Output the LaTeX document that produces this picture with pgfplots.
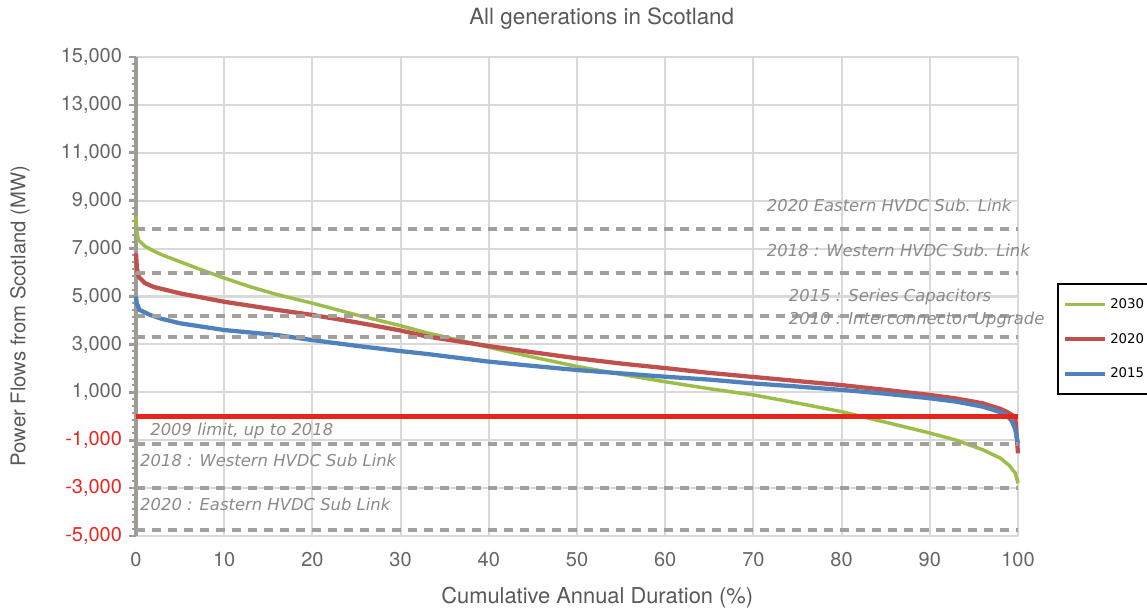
\documentclass[border=0pt]{standalone}
\usepackage{pgfplots}
\pgfplotsset{compat=1.18}
\usepackage{fontspec}
\setmainfont{TeX Gyre Heros}
\newfontfamily\dejavu{DejaVu Sans}
\definecolor{textgray}{HTML}{595959}
\definecolor{tickgray}{HTML}{666666}
\definecolor{negred}{HTML}{E8281E}
\definecolor{axisgray}{HTML}{9F9C97}
\definecolor{gridgray}{HTML}{D9D9D9}
\definecolor{dashgray}{HTML}{A3A09B}
\definecolor{annotgray}{HTML}{8A8A8A}
\definecolor{sgreen}{HTML}{9DBD4A}
\definecolor{sred}{HTML}{C0504D}
\definecolor{sblue}{HTML}{4F81BD}
\definecolor{limred}{HTML}{E8251A}
\begin{document}
\begin{tikzpicture}
\begin{axis}[
  scale only axis,
  width=661.5pt, height=359.25pt,
  xmin=0, xmax=100, ymin=-5000, ymax=15000,
  clip=false,
  scaled ticks=false,
  axis x line=bottom, axis y line=left,
  x axis line style={draw=gridgray, line width=1.5pt, -},
  y axis line style={draw=axisgray, line width=3pt, -},
  xtick={0,10,...,100},
  ytick={-5000,-3000,-1000,1000,3000,5000,7000,9000,11000,13000,15000},
  yticklabels={{\textcolor{negred}{-5,000}},{\textcolor{negred}{-3,000}},{\textcolor{negred}{-1,000}},{1,000},{3,000},{5,000},{7,000},{9,000},{11,000},{13,000},{15,000}},
  /pgf/number format/assume math mode=true,
  minor y tick num=6,
  tick align=outside,
  major tick length=5pt,
  minor tick length=3pt,
  y tick style={draw=axisgray, line width=2pt},
  minor y tick style={draw=axisgray, line width=1.5pt},
  x tick style={draw=none},
  grid=major,
  major grid style={draw=gridgray, line width=1.6pt},
  tick label style={font=\fontsize{15}{18}\selectfont, text=tickgray},
  xticklabel style={yshift=-4pt},
  yticklabel style={xshift=-2pt},
  title={All generations in Scotland},
  title style={font=\fontsize{16.8}{19}\selectfont, text=textgray, at={(axis description cs:0.528,1)}, anchor=base, yshift=18pt},
  xlabel={Cumulative Annual Duration (\%)},
  ylabel={Power Flows from Scotland (MW)},
  xlabel style={font=\fontsize{16.4}{19}\selectfont, text=textgray, at={(axis description cs:0.523,-0.1294)}, anchor=center},
  ylabel style={font=\fontsize{15.2}{18}\selectfont, text=textgray, at={(axis description cs:-0.1315,0.459)}, anchor=center},
  legend style={at={(axis description cs:1.0442,0.528)}, anchor=north west, draw=black, line width=1.5pt,
    font=\dejavu\fontsize{10}{11}\selectfont, row sep=13pt, inner xsep=4pt, inner ysep=9pt, fill=white},
  legend cell align=left,
  legend image code/.code={\draw[#1] (0pt,0pt) -- (30pt,0pt);},
]
\coordinate (o) at (axis cs:0,-5000);
\addplot[sgreen, line width=2.6pt] coordinates {
(0,8350) (0.1,7700) (0.3,7350) (1,7100) (2,6900) (3,6730) (5,6450) (7,6170) (10,5770) (13,5400) (16,5080) (20,4720) (25,4230) (30,3780) (33,3480) (37,3150) (40,2880) (45,2470) (50,2080) (55,1750) (60,1440) (65,1150) (70,890) (75,550) (80,190) (85,-250) (90,-700) (93,-1000) (96,-1400) (98,-1750) (99,-2050) (99.7,-2380) (100,-2800)};
\addlegendentry{2030}
\addplot[sred, line width=3.2pt] coordinates {
(0,6800) (0.1,6200) (0.3,5830) (1,5560) (2,5400) (5,5130) (10,4780) (16,4440) (20,4230) (25,3920) (30,3580) (33,3330) (37,3100) (40,2930) (45,2670) (50,2420) (55,2200) (60,2010) (65,1810) (70,1640) (75,1470) (80,1300) (85,1100) (90,890) (93,740) (96,540) (98,310) (98.7,190) (99.4,40) (99.7,-70) (100,-1550)};
\addlegendentry{2020}
\addplot[sblue, line width=3.2pt] coordinates {
(0,5000) (0.1,4700) (0.4,4440) (1.6,4230) (3,4060) (5,3880) (10,3600) (16,3390) (20,3180) (25,2940) (30,2720) (33,2600) (40,2280) (45,2100) (50,1930) (55,1790) (60,1650) (65,1530) (70,1370) (75,1240) (80,1100) (85,940) (90,750) (93,610) (96,400) (98,170) (98.7,50) (99.3,-200) (99.7,-570) (100,-1150)};
\addlegendentry{2015}
\addplot[limred, line width=3.6pt, forget plot] coordinates {(0,0) (100,0)};
\pgfplotsinvokeforeach{7800,6000,4200,3300,-1150,-3000,-4750}{
  \addplot[dashgray, line width=3pt, dash pattern=on 7pt off 5pt, forget plot] coordinates {(0,#1) (100,#1)};
}
\begin{scope}[every node/.style={font=\dejavu\itshape\fontsize{12.3}{14}\selectfont, text=annotgray, inner sep=0pt, anchor=west}]
\node at (axis cs:71.5,8820) {2020 Eastern HVDC Sub. Link};
\node at (axis cs:71.5,6940) {2018 : Western HVDC Sub. Link};
\node at (axis cs:74,4980) {2015 : Series Capacitors};
\node at (axis cs:74,4020) {2010 : Interconnector Upgrade};
\node at (axis cs:1.6,-615) {2009 limit, up to 2018};
\node at (axis cs:0.45,-1825) {2018 : Western HVDC Sub Link};
\node at (axis cs:0.45,-3700) {2020 : Eastern HVDC Sub Link};
\end{scope}
\end{axis}
\pgfresetboundingbox
\path[use as bounding box] (o) ++(-102pt,-54.75pt) rectangle ++(860.25pt,456.75pt);
\end{tikzpicture}
\end{document}
